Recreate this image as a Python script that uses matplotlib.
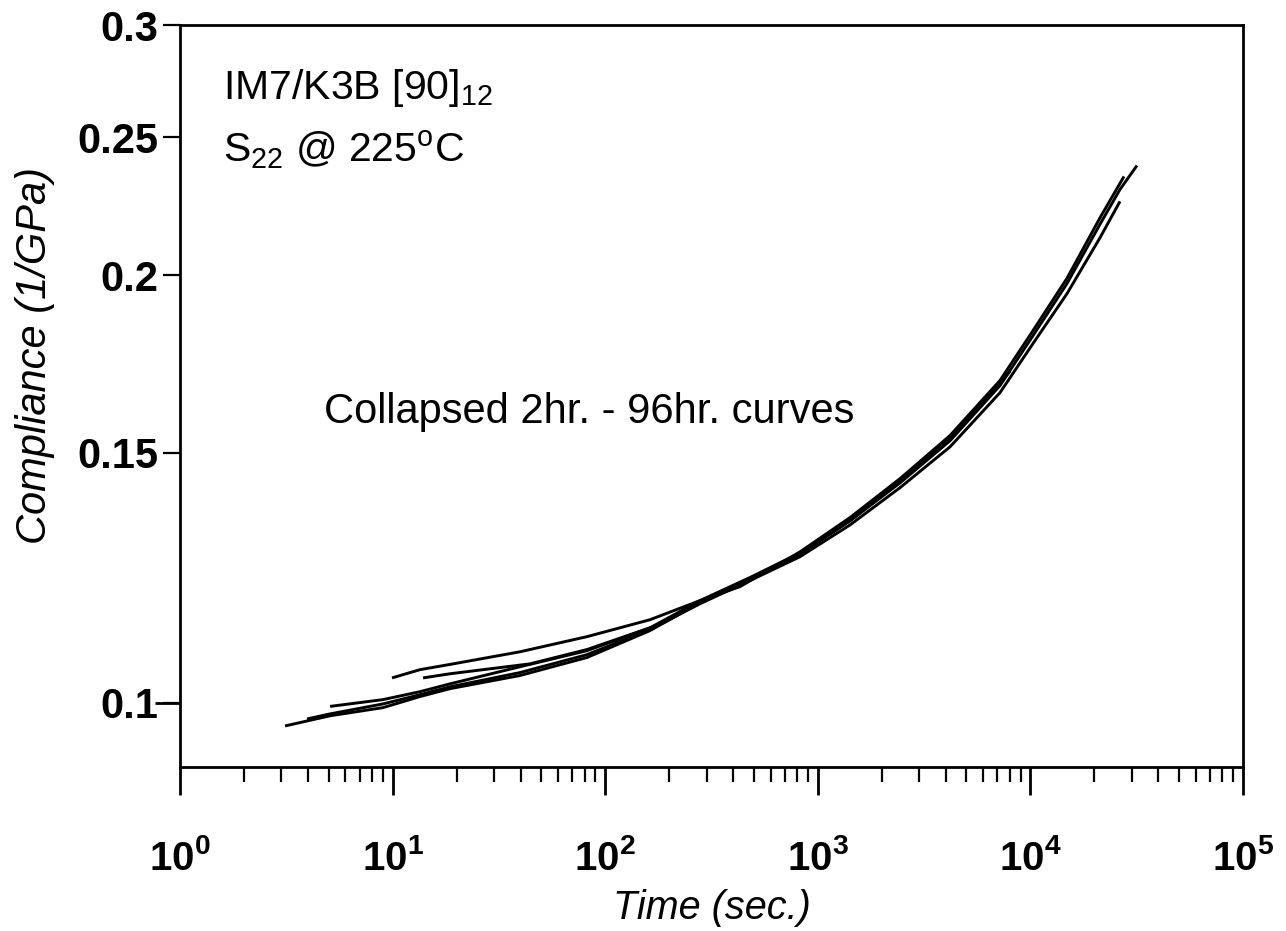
import matplotlib
matplotlib.use("Agg")
import matplotlib.pyplot as plt
from matplotlib.ticker import FixedLocator, NullFormatter

plt.rcParams["font.family"] = ["Liberation Sans", "DejaVu Sans"]
plt.rcParams["mathtext.fontset"] = "custom"
plt.rcParams["mathtext.rm"] = "Liberation Sans"
plt.rcParams["mathtext.it"] = "Liberation Sans:italic"
plt.rcParams["mathtext.bf"] = "Liberation Sans:bold"
plt.rcParams["mathtext.default"] = "regular"

# creep compliance curves (time in s, compliance in 1/GPa)
time_2hr = [3.12, 5.08, 9.01, 13.45, 18.62, 39.7, 82.1, 162.5, 279.2, 479.9, 824.8,
            1417.6, 2436, 4187, 7194, 10285, 14870, 21255, 26390, 31720]
comp_2hr = [0.0963, 0.0979, 0.0992, 0.1010, 0.1023, 0.1045, 0.1076, 0.1124, 0.1176, 0.1223, 0.1273,
            0.1343, 0.1428, 0.1529, 0.1672, 0.1813, 0.1973, 0.2172, 0.2298, 0.2389]

time_8hr = [3.96, 5.08, 9.01, 13.45, 18.62, 39.7, 82.1, 162.5, 279.2, 479.9, 824.8,
            1417.6, 2436, 4187, 7194, 10285, 14870, 21255, 26390]
comp_8hr = [0.0974, 0.0982, 0.0998, 0.1013, 0.1026, 0.1050, 0.1081, 0.1126, 0.1174, 0.1219, 0.1267,
            0.1334, 0.1417, 0.1514, 0.1653, 0.1790, 0.1941, 0.2125, 0.2254]

time_24hr = [5.08, 9.01, 13.45, 18.62, 39.7, 82.1, 162.5, 279.2, 479.9, 824.8,
             1417.6, 2436, 4187, 8017]
comp_24hr = [0.0994, 0.1005, 0.1018, 0.1031, 0.1060, 0.1088, 0.1129, 0.1180, 0.1225, 0.1275,
             0.1345, 0.1433, 0.1534, 0.1711]

time_48hr = [9.94, 13.45, 18.62, 39.7, 82.1, 162.5, 279.2, 430.6, 824.8,
             1417.6, 2436, 4187, 7194, 10285, 14870, 21255, 27560]
comp_48hr = [0.1041, 0.1055, 0.1064, 0.1086, 0.1113, 0.1144, 0.1180, 0.1207, 0.1277,
             0.1350, 0.1438, 0.1542, 0.1686, 0.1828, 0.1990, 0.2195, 0.2347]

time_96hr = [13.90, 18.62, 44.3, 82.1, 167.8, 279.2, 479.9, 824.8,
             1417.6, 2436, 4187, 7596]
comp_96hr = [0.1041, 0.1048, 0.1065, 0.1090, 0.1131, 0.1176, 0.1221, 0.1273,
             0.1343, 0.1431, 0.1532, 0.1694]

curves = [(time_2hr, comp_2hr), (time_8hr, comp_8hr), (time_24hr, comp_24hr),
          (time_48hr, comp_48hr), (time_96hr, comp_96hr)]

x_major = [1, 10, 100, 1000, 10000, 100000]
x_labels = [r"$\mathdefault{10^{%d}}$" % i for i in range(6)]
y_ticks = [0.1, 0.15, 0.2, 0.25, 0.3]
y_labels = ["0.1", "0.15", "0.2", "0.25", "0.3"]

fig = plt.figure(figsize=(12.86, 9.31), dpi=100)
ax = fig.add_axes([180 / 1286, 1 - 767 / 931, 1063 / 1286, 742 / 931])

for t, c in curves:
    ax.plot(t, c, color="black", lw=2.1, solid_capstyle="butt", solid_joinstyle="round")

ax.set_xscale("log")
ax.set_yscale("log")
ax.set_xlim(1, 1e5)
ax.set_ylim(0.0901, 0.3)

ax.set_xticks(x_major, labels=x_labels)
ax.xaxis.set_minor_locator(FixedLocator([m * 10 ** e for e in range(5) for m in range(2, 10)]))
ax.xaxis.set_minor_formatter(NullFormatter())

# 0.1 is the long decade tick, the rest are short; all five carry labels
ax.yaxis.remove_overlapping_locs = False
ax.yaxis.set_major_locator(FixedLocator([0.1]))
ax.yaxis.set_major_formatter(NullFormatter())
ax.set_yticks(y_ticks, labels=y_labels, minor=True)

ax.tick_params(axis="x", which="major", direction="out", length=20, width=2, pad=32,
               labelsize=29)
ax.tick_params(axis="x", which="minor", direction="out", length=11, width=1.6)
ax.tick_params(axis="y", which="major", direction="out", length=18, width=2)
ax.tick_params(axis="y", which="minor", direction="out", length=12, width=1.6, pad=3.5,
               labelsize=30)
for lab in ax.get_xticklabels() + ax.get_yticklabels(minor=True):
    lab.set_fontweight("bold")

for sp in ax.spines.values():
    sp.set_linewidth(2)

ax.set_xlabel("Time (sec.)", fontsize=28.5, style="italic")
ax.xaxis.set_label_coords(0.5, -0.165)
ax.set_ylabel("Compliance (1/GPa)", fontsize=30, style="italic")
ax.yaxis.set_label_coords(-0.118, 0.555)

ax.text(0.04, 0.9, r"IM7/K3B [90]$_{12}$", transform=ax.transAxes, fontsize=29.5)
ax.text(0.04, 0.815, r"S$_{22}$ @ 225$^{\mathrm{o}}$C", transform=ax.transAxes, fontsize=29.5)
ax.text(0.135, 0.463, "Collapsed 2hr. - 96hr. curves", transform=ax.transAxes, fontsize=30)

fig.savefig("out.png", dpi=100)
